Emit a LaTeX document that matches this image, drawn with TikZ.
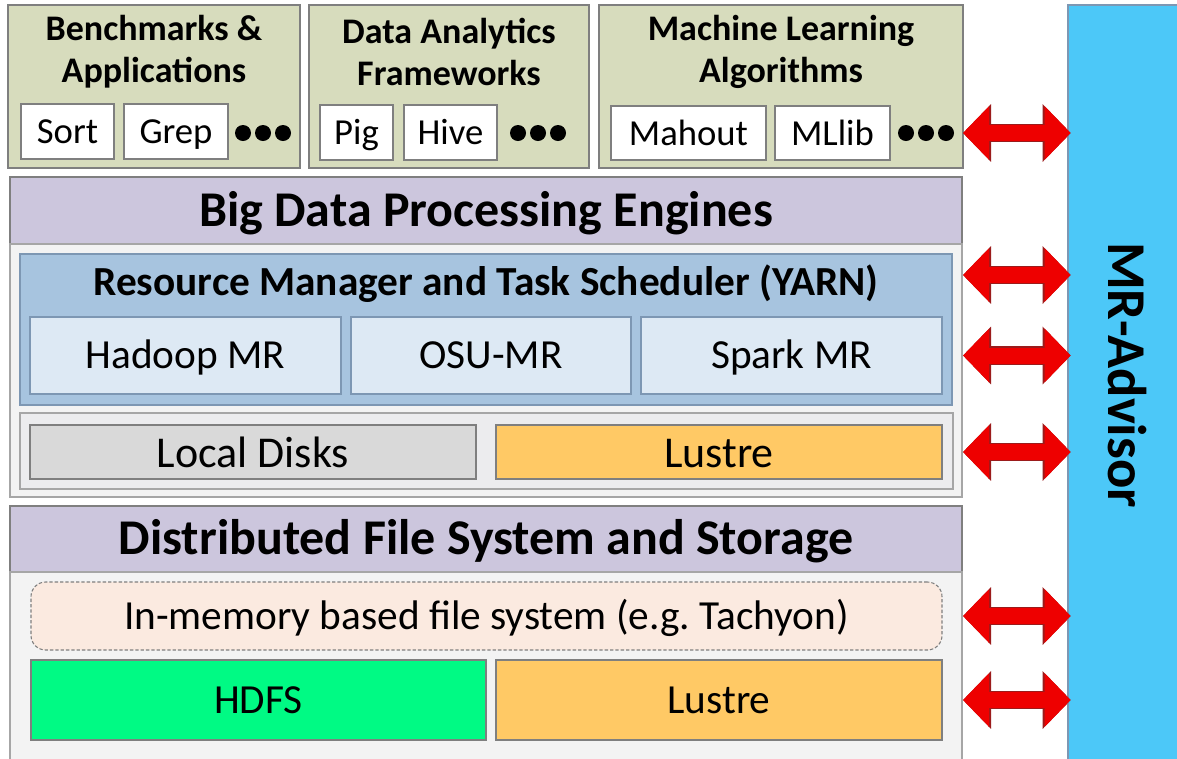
\documentclass[tikz,border=0pt]{standalone}
\usepackage{fontspec}
\setmainfont{Carlito}
\usetikzlibrary{arrows.meta}

\definecolor{olivebox}{HTML}{D7DCBD}
\definecolor{lavender}{HTML}{CCC6DD}
\definecolor{panelgray}{HTML}{F3F3F3}
\definecolor{storegray}{HTML}{ECECEE}
\definecolor{yarnblue}{HTML}{A7C4DF}
\definecolor{paleblue}{HTML}{DDE9F4}
\definecolor{diskgray}{HTML}{D9D9D9}
\definecolor{lustreorange}{HTML}{FFC965}
\definecolor{memfill}{HTML}{FBEAE0}
\definecolor{hdfsgreen}{HTML}{00FA84}
\definecolor{advisorblue}{HTML}{4CC8F8}
\definecolor{edgegray}{HTML}{7F7F7F}
\definecolor{lightedge}{HTML}{A6A6A6}
\definecolor{yarnedge}{HTML}{7D97B3}
\definecolor{arrowred}{HTML}{EE0000}
\definecolor{arrowedge}{HTML}{9B1B1B}

\begin{document}
\begin{tikzpicture}[x=0.75pt, y=-0.75pt,
    box/.style={draw=edgegray, line width=1.1pt, anchor=north west, inner sep=0pt, outer sep=0pt},
    boxsize/.style 2 args={minimum width=#1*0.75pt, minimum height=#2*0.75pt},
    headtext/.style={font=\fontsize{27}{31.5}\selectfont\bfseries, align=center},
    smalltext/.style={font=\fontsize{27.5}{33}\selectfont, text height=21.5pt, text depth=3.3pt},
    bandtext/.style={font=\fontsize{37.5}{45}\selectfont\bfseries, text height=28.6pt, text depth=5.2pt},
    yarntext/.style={font=\fontsize{31}{37}\selectfont\bfseries},
    midtext/.style={font=\fontsize{31}{37}\selectfont, text height=23.9pt, text depth=4pt},
    disktext/.style={font=\fontsize{33}{40}\selectfont, text height=26.1pt, text depth=3.6pt},
    advisortext/.style={font=\fontsize{41}{49}\selectfont\bfseries},
    twoway/.style={line width=12pt, color=arrowred,
        {Triangle[length=19.5pt,width=39pt]}-{Triangle[length=19.5pt,width=39pt]}},
    twoway edge/.style={line width=13.6pt, color=arrowedge,
        {Triangle[length=21pt,width=42pt]}-{Triangle[length=21pt,width=42pt]}}]
    \useasboundingbox (0,0) rectangle (1177,758);

    % Applications, frameworks and algorithms
    \node[box, fill=olivebox, boxsize={292}{163}] (bench) at (8,5) {};
    \node[box, fill=olivebox, boxsize={280}{163}] (frame) at (309,5) {};
    \node[box, fill=olivebox, boxsize={364}{163}] (mlalg) at (599,5) {};
    \node[headtext] (benchtitle) at (154,52) {Benchmarks \&\\Applications};
    \node[headtext] (frametitle) at (449,52) {Data Analytics\\Frameworks};
    \node[headtext] (mlalgtitle) at (781,52) {Machine Learning\\Algorithms};

    \node[box, fill=white, boxsize={93}{55}, smalltext] (sort) at (21,104) {Sort};
    \node[box, fill=white, boxsize={104}{55}, smalltext] (grep) at (124,104) {Grep};
    \node[box, fill=white, boxsize={73}{55}, smalltext] (pig) at (320,105) {Pig};
    \node[box, fill=white, boxsize={93}{55}, smalltext] (hive) at (404,105) {Hive};
    \node[box, fill=white, boxsize={155}{54}, smalltext] (mahout) at (611,106) {Mahout};
    \node[box, fill=white, boxsize={115}{54}, smalltext] (mllib) at (775,106) {MLlib};
    \foreach \x in {243,263,283,518,538,558,906,926,946}
        \fill (\x,133) circle[radius=6pt];

    % Processing engines
    \node[box, fill=lavender, boxsize={952}{67}, bandtext] (engines) at (10,177) {Big Data Processing Engines};
    \node[box, draw=lightedge, fill=panelgray, boxsize={952}{253}] (compute) at (10,244) {};
    \node[box, draw=yarnedge, fill=yarnblue, boxsize={932}{151}] (yarn) at (20,254) {};
    \node[yarntext] (yarntitle) at (486,284) {Resource Manager and Task Scheduler (YARN)};
    \node[box, draw=yarnedge, fill=paleblue, boxsize={311}{77}, midtext] (hadoop) at (30,317) {Hadoop MR};
    \node[box, draw=yarnedge, fill=paleblue, boxsize={280}{77}, midtext] (osu) at (351,317) {OSU-MR};
    \node[box, draw=yarnedge, fill=paleblue, boxsize={301}{77}, midtext] (spark) at (641,317) {Spark MR};
    \node[box, draw=lightedge, fill=storegray, boxsize={933}{76}] (scratch) at (20,413) {};
    \node[box, fill=diskgray, boxsize={446}{54}, disktext] (localdisks) at (30,425) {Local Disks};
    \node[box, fill=lustreorange, boxsize={446}{54}, disktext] (fastlustre) at (496,425) {Lustre};

    % File systems and storage
    \node[box, fill=lavender, boxsize={952}{66}, bandtext] (storage) at (10,506) {Distributed File System and Storage};
    \node[box, draw=lightedge, fill=panelgray, boxsize={952}{200}] (filesys) at (10,572) {};
    \node[box, draw=edgegray, fill=memfill, line width=0.8pt, dash pattern=on 2.5pt off 1.5pt,
        rounded corners=11pt, boxsize={911}{68}, midtext] (inmem) at (31,582) {In-memory based file system (e.g.\ Tachyon)};
    \node[box, fill=hdfsgreen, boxsize={455}{80}, midtext] (hdfs) at (31,660) {HDFS};
    \node[box, fill=lustreorange, boxsize={446}{80}, midtext] (dfslustre) at (496,660) {Lustre};

    % Advisor
    \node[box, draw=yarnedge, fill=advisorblue, boxsize={120}{770}] (advisor) at (1068,5) {};
    \node[advisortext, rotate=-90] (advisorname) at (1127,375) {MR-Advisor};

    % Two-way links
    \coordinate (yarnport) at ([yshift=-15.75pt]yarn.north east);
    \foreach \port in {mllib,yarnport,spark,fastlustre,inmem,dfslustre} {
        \draw[twoway edge] (\port -| mlalg.east) -- ([xshift=2pt]\port -| advisor.west);
        \draw[twoway] (\port -| mlalg.east) -- ([xshift=2pt]\port -| advisor.west);
    }
\end{tikzpicture}
\end{document}
